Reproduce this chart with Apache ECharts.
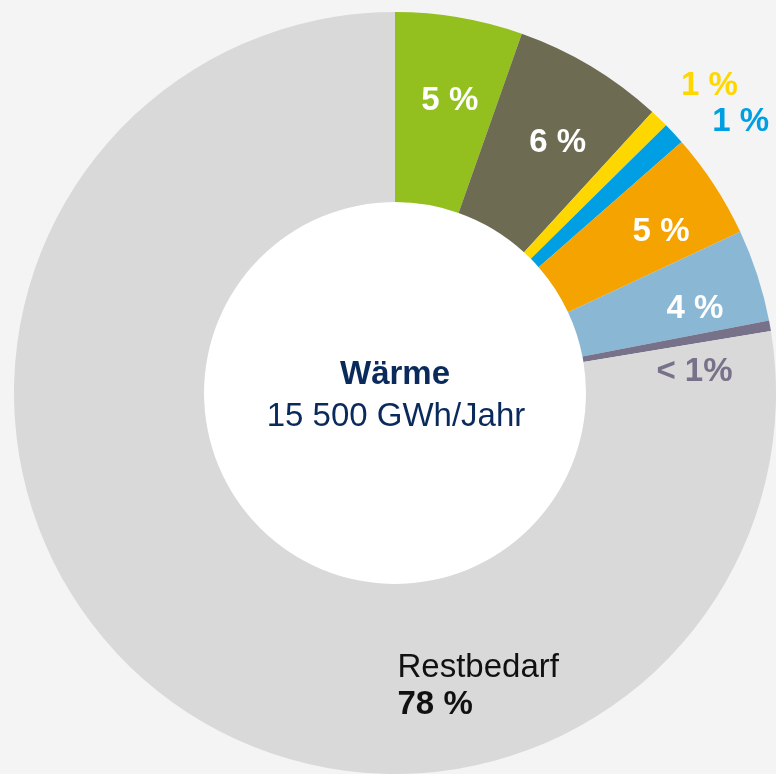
<!DOCTYPE html>
<html>
<head>
<meta charset="utf-8">
<script src="https://cdn.jsdelivr.net/npm/echarts@6/dist/echarts.min.js"></script>
<style>
  html, body { margin: 0; padding: 0; background: #f4f4f4; }
  #chart { width: 776px; height: 774px; }
</style>
</head>
<body>
<div id="chart"></div>
<script>
// shares (percent of 15 500 GWh/Jahr)
const names = ['Sektor A', 'Sektor B', 'Sektor C', 'Sektor D', 'Sektor E', 'Sektor F', 'Sonstige', 'Restbedarf']
const values = [5.4, 6.4, 0.8, 0.95, 4.5, 3.9, 0.45, 77.6]
const labels = ['5 %', '6 %', '1 %', '1 %', '5 %', '4 %', '< 1%', '78 %']
const colors = ['#93c01f', '#6e6b53', '#ffd700', '#009fe3', '#f5a300', '#8ab8d4', '#77718a', '#d9d9d9']
const labelColors = ['#fff', '#fff', '#ffd700', '#009fe3', '#fff', '#fff', '#77718a', '#000']

// label nudges away from the ring middle
const nudges = [[6, -7], [14, -2], [114, -99], [134, -74], [24, -3], [25, 5], [15, 30], [277, 73]]

const data = values.map((v, i) => ({
  value: v,
  name: names[i],
  itemStyle: { color: colors[i] },
  label: {
    color: labelColors[i],
    formatter: i === 7 ? '{a|Restbedarf}\n{b|' + labels[i] + '}' : labels[i]
  }
}))

const chart = echarts.init(document.getElementById('chart'))
chart.setOption({
  backgroundColor: '#f4f4f4',
  animation: false,
  series: [
    {
      // white hole of the ring
      type: 'pie',
      center: [395, 393],
      radius: [0, 191],
      silent: true,
      label: { show: false },
      labelLine: { show: false },
      itemStyle: { color: '#fff' },
      data: [{ value: 1, name: 'hole' }]
    },
    {
      type: 'pie',
      center: [395, 393],
      radius: [191, 381],
      startAngle: 90,
      clockwise: true,
      avoidLabelOverlap: false,
      emphasis: { disabled: true },
      itemStyle: { borderWidth: 0 },
      label: {
        show: true,
        position: 'inside',
        fontFamily: '"Liberation Sans", Arial, sans-serif',
        fontSize: 33,
        fontWeight: 'bold',
        rich: {
          a: { fontSize: 33, fontWeight: 'normal', color: '#111', width: 175, align: 'left', lineHeight: 37 },
          b: { fontSize: 33, fontWeight: 'bold', color: '#111', width: 175, align: 'left', lineHeight: 37 }
        }
      },
      labelLine: { show: false },
      labelLayout: function (params) {
        const n = nudges[params.dataIndex]
        return { dx: n[0], dy: n[1] }
      },
      data: data
    }
  ],
  graphic: [
    {
      type: 'text',
      x: 395, y: 375,
      z: 10,
      style: {
        text: 'Wärme', fill: '#0a2a5c', font: 'bold 33px "Liberation Sans", Arial, sans-serif',
        align: 'center', verticalAlign: 'middle'
      }
    },
    {
      type: 'text',
      x: 396, y: 417,
      z: 10,
      style: {
        text: '15 500 GWh/Jahr', fill: '#0a2a5c', font: '33px "Liberation Sans", Arial, sans-serif',
        align: 'center', verticalAlign: 'middle'
      }
    }
  ]
})
window.addEventListener('resize', function () {
  chart && chart.resize()
})
</script>
</body>
</html>
